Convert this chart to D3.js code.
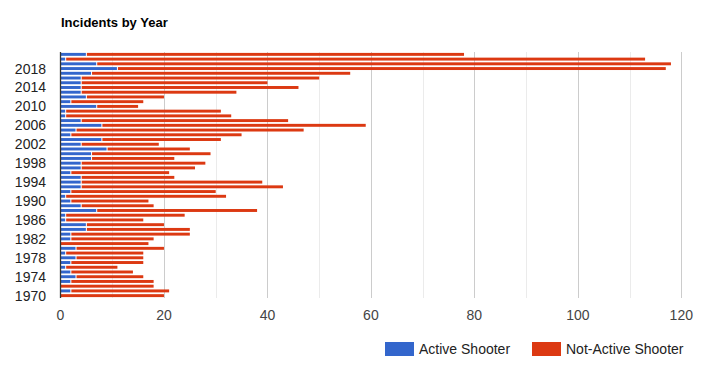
<!DOCTYPE html>
<html>
<head>
<meta charset="utf-8">
<script src="https://cdn.jsdelivr.net/npm/d3@7/dist/d3.min.js"></script>
<style>
  body { margin: 0; background: #fff; }
  svg text { font-family: Arial, "Liberation Sans", sans-serif; }
</style>
</head>
<body>
<svg id="chart" width="713" height="380"></svg>
<script>
// =========
// Data
// =========

var years = d3.range(1970, 2022);

var activeShooter = [
  0, 2, 0, 2, 3, 2, 1, 2, 3, 1,      // 1970-1979
  3, 0, 2, 2, 5, 5, 1, 1, 7, 4,      // 1980-1989
  2, 1, 2, 4, 4, 4, 2, 4, 4, 6,      // 1990-1999
  6, 9, 4, 8, 2, 3, 8, 4, 1, 1,      // 2000-2009
  7, 2, 5, 4, 4, 4, 4, 6, 11, 7,     // 2010-2019
  1, 5                               // 2020-2021
];

var notActiveShooter = [
  20, 19, 18, 16, 13, 12, 10, 14, 13, 15,
  17, 17, 16, 23, 20, 15, 15, 23, 31, 14,
  15, 31, 28, 39, 35, 18, 19, 22, 24, 16,
  23, 16, 15, 23, 33, 44, 51, 40, 32, 30,
  8, 14, 15, 30, 42, 36, 46, 50, 106, 111,
  112, 73
];

var seriesNames = ['Active Shooter', 'Not-Active Shooter'];
var seriesColors = ['#3366cc', '#dc3912'];

var xMajorTicks = [0, 20, 40, 60, 80, 100, 120];
var xMinorTicks = [10, 30, 50, 70, 90, 110];
var yearTicks = d3.range(1970, 2019, 4);

// =========
// Layout
// =========

var area = {left: 60.5, right: 681.3, top: 52, bottom: 298};
var svg = d3.select('#chart');

var x = d3.scaleLinear().domain([0, 120]).range([area.left, area.right]);
var y = d3.scaleBand()
  .domain(years.slice().reverse())
  .range([area.top, area.bottom])
  .paddingInner(0.38)
  .paddingOuter(0.19);

var rows = years.map(function(yr, i){
  return {year: yr, active: activeShooter[i], other: notActiveShooter[i]};
});

// title
svg.append('text')
  .attr('x', 61)
  .attr('y', 27)
  .style('font-size', '13px')
  .style('font-weight', 'bold')
  .attr('fill', '#000')
  .text('Incidents by Year');

// gridlines
svg.append('g').selectAll('line')
  .data(xMinorTicks)
  .enter().append('line')
  .attr('x1', function(d){ return Math.round(x(d)) + 0.5; })
  .attr('x2', function(d){ return Math.round(x(d)) + 0.5; })
  .attr('y1', area.top).attr('y2', area.bottom)
  .attr('stroke', '#ebebeb');

svg.append('g').selectAll('line')
  .data(xMajorTicks.slice(1))
  .enter().append('line')
  .attr('x1', function(d){ return Math.round(x(d)) + 0.5; })
  .attr('x2', function(d){ return Math.round(x(d)) + 0.5; })
  .attr('y1', area.top).attr('y2', area.bottom)
  .attr('stroke', '#cccccc');

// bars
var bars = svg.append('g');

bars.selectAll('.bar-active')
  .data(rows.filter(function(d){ return d.active > 0; }))
  .enter().append('rect')
  .attr('class', 'bar-active')
  .attr('x', x(0) + 0.5)
  .attr('y', function(d){ return y(d.year); })
  .attr('width', function(d){ return x(d.active) - x(0) - 1; })
  .attr('height', y.bandwidth())
  .attr('fill', seriesColors[0]);

bars.selectAll('.bar-other')
  .data(rows)
  .enter().append('rect')
  .attr('class', 'bar-other')
  .attr('x', function(d){ return x(d.active) + (d.active > 0 ? 0.5 : 0.5); })
  .attr('y', function(d){ return y(d.year); })
  .attr('width', function(d){ return x(d.active + d.other) - x(d.active) - 0.5; })
  .attr('height', y.bandwidth())
  .attr('fill', seriesColors[1]);

// axis line
svg.append('line')
  .attr('x1', area.left).attr('x2', area.left)
  .attr('y1', area.top).attr('y2', area.bottom)
  .attr('stroke', '#333')
  .attr('stroke-width', 1.3);

// x tick labels
svg.append('g').selectAll('text')
  .data(xMajorTicks)
  .enter().append('text')
  .attr('x', function(d){ return x(d); })
  .attr('y', 320)
  .attr('text-anchor', 'middle')
  .style('font-size', '14px')
  .attr('fill', '#444')
  .text(function(d){ return d; });

// y tick labels
svg.append('g').selectAll('text')
  .data(yearTicks)
  .enter().append('text')
  .attr('x', 46)
  .attr('y', function(d){ return y(d) + y.bandwidth() / 2 + 5; })
  .attr('text-anchor', 'end')
  .style('font-size', '14px')
  .attr('fill', '#222')
  .text(function(d){ return d; });

// =========
// Legend
// =========

var legendX = [385, 532];
var legend = svg.append('g').selectAll('g')
  .data(seriesNames)
  .enter().append('g')
  .attr('transform', function(d, i){ return 'translate(' + legendX[i] + ',342)'; });

legend.append('rect')
  .attr('width', 29)
  .attr('height', 14)
  .attr('fill', function(d, i){ return seriesColors[i]; });

legend.append('text')
  .attr('x', 34)
  .attr('y', 12)
  .style('font-size', '14px')
  .attr('fill', '#222')
  .text(function(d){ return d; });
</script>
</body>
</html>
